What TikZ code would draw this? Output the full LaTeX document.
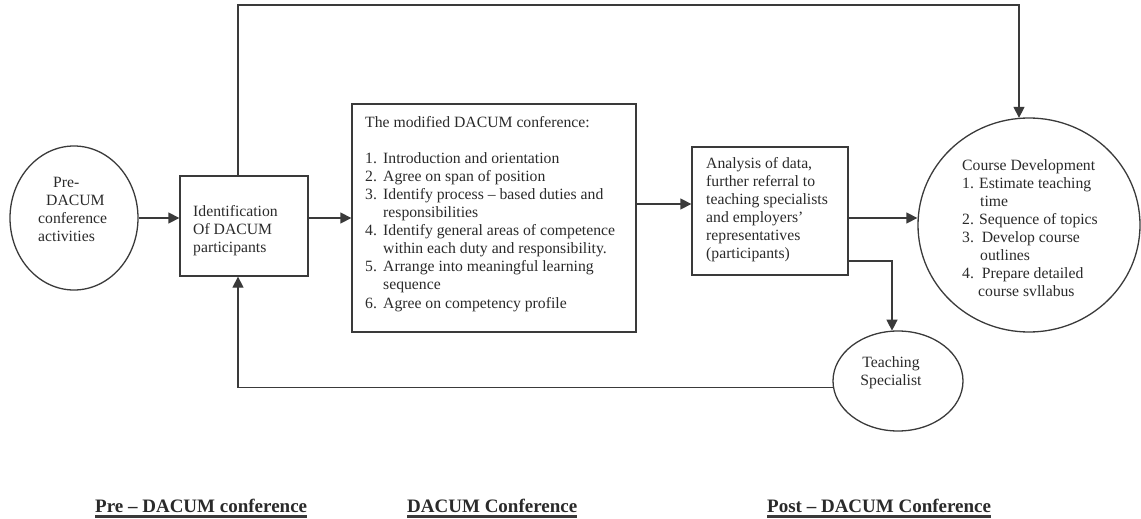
\documentclass[tikz,border=0pt]{standalone}
\usepackage{fontspec}
\setmainfont{Liberation Serif}
\usetikzlibrary{arrows.meta,shapes.geometric}
\definecolor{linec}{HTML}{3A3A3A}
\definecolor{textc}{HTML}{2A2A2A}
\tikzset{
  shapeline/.style={draw=linec,line width=1.3pt},
  boxnode/.style={shapeline,rectangle,inner sep=0pt},
  ovalnode/.style={shapeline,ellipse,inner sep=0pt},
  conn/.style={draw=linec,line width=1.3pt},
  arr/.style={conn,-{Triangle[length=11pt,width=11pt]}},
  bodytext/.style={anchor=base west,inner sep=0pt,align=left,text=textc,font=\fontsize{15.7}{18.1}\selectfont},
  foottext/.style={anchor=base west,inner sep=0pt,text=textc,font=\fontsize{19}{22}\selectfont\bfseries},
  underl/.style={draw=linec,line width=2.8pt}
}
\begin{document}
\begin{tikzpicture}[x=1pt,y=-1pt]
\useasboundingbox (0,0) rectangle (1141,519);
% shapes
\node[ovalnode,minimum width=128pt,minimum height=144pt] (pre) at (74,218) {};
\node[boxnode,minimum width=128pt,minimum height=100pt] (ident) at (244,226) {};
\node[boxnode,minimum width=284pt,minimum height=228pt] (dacum) at (494,218) {};
\node[boxnode,minimum width=156pt,minimum height=128pt] (anal) at (770,211) {};
\node[ovalnode,minimum width=222pt,minimum height=214pt] (course) at (1029,225) {};
\node[ovalnode,minimum width=130pt,minimum height=100pt] (teach) at (898,381) {};
% texts (anchored at the baseline of their last line)
\node[bodytext] (pretext) at (38,241.3) {\hspace*{15pt}Pre-\\\hspace*{8pt}DACUM\\conference\\activities};
\node[bodytext] (identtext) at (193,252.2) {Identification\\Of DACUM\\participants};
\node[bodytext] (dacumtext) at (365,308) {The modified DACUM conference:\\[18.1pt]
\makebox[18pt][l]{1.}Introduction and orientation\\
\makebox[18pt][l]{2.}Agree on span of position\\
\makebox[18pt][l]{3.}Identify process -- based duties and\\
\hspace*{18pt}responsibilities\\
\makebox[18pt][l]{4.}Identify general areas of competence\\
\hspace*{18pt}within each duty and responsibility.\\
\makebox[18pt][l]{5.}Arrange into meaningful learning\\
\hspace*{18pt}sequence\\
\makebox[18pt][l]{6.}Agree on competency profile};
\node[bodytext] (analtext) at (706,258.5) {Analysis of data,\\further referral to\\teaching specialists\\and employers'\\representatives\\(participants)};
\node[bodytext] (coursetext) at (962,296.7) {Course Development\\1. Estimate teaching\\\hspace*{18pt}time\\2. Sequence of topics\\3.\ \ Develop course\\\hspace*{18pt}outlines\\4.\ \ Prepare detailed\\\hspace*{16pt}course svllabus};
\node[bodytext,anchor=base,align=center] (teachtext) at (891,385.1) {Teaching\\Specialist};
% footer
\node[foottext] (f1) at (95,512) {Pre -- DACUM conference};
\node[foottext] (f2) at (407,512) {DACUM Conference};
\node[foottext] (f3) at (767,512) {Post -- DACUM Conference};
\draw[underl] ([yshift=-4.5pt]f1.base west) -- ([yshift=-4.5pt]f1.base east);
\draw[underl] ([yshift=-4.5pt]f2.base west) -- ([yshift=-4.5pt]f2.base east);
\draw[underl] ([yshift=-4.5pt]f3.base west) -- ([yshift=-4.5pt]f3.base east);
% connectors
\coordinate (toprow) at (0,5);
\coordinate (courseTop) at ([xshift=-10pt,yshift=-0.5pt]course.north);
\coordinate (teachTop) at ([xshift=-6pt,yshift=-0.3pt]teach.north);
\draw[arr] (pre.east) -- (pre.east -| ident.west);
\draw[arr] (ident.east |- pre.east) -- (dacum.west |- pre.east);
\draw[arr] (dacum.east |- 0,204) -- (anal.west |- 0,204);
\draw[arr] (anal.east |- 0,218) -- (course.west |- 0,218);
\draw[arr] (anal.east |- 0,261) -| (teachTop);
\draw[arr] ([xshift=-6pt]ident.north) |- (toprow -| courseTop) -- (courseTop);
\draw[arr] (teach.186) -| ([xshift=-6pt]ident.south);
\end{tikzpicture}
\end{document}
